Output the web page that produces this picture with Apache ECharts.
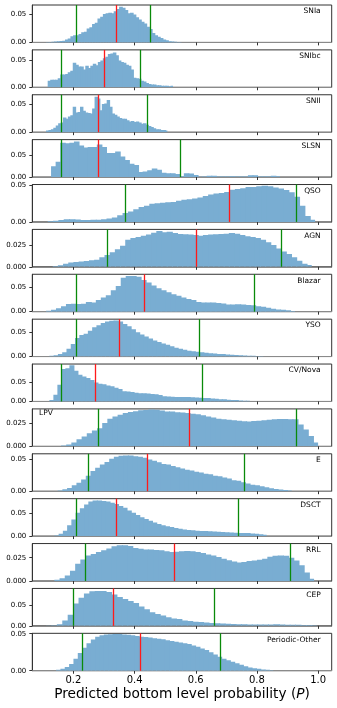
<!DOCTYPE html>
<html><head><meta charset="utf-8">
<script src="https://cdn.jsdelivr.net/npm/echarts@6/dist/echarts.min.js"></script>
<style>html,body{margin:0;padding:0;background:#fff}#c{width:337px;height:708px}</style>
</head><body><div id="c"></div>
<script>
// ---------------- DATA ----------------
const classNames = ['SNIa','SNIbc','SNII','SLSN','QSO','AGN','Blazar','YSO','CV/Nova','LPV','E','DSCT','RRL','CEP','Periodic-Other'];
// histogram range (first bin left edge, last bin right edge) per class
const binLo = [0.1104,0.1158,0.1104,0.1268,0.1158,0.1322,0.1104,0.1213,0.1213,0.1596,0.1486,0.1377,0.1377,0.1104,0.1432];
const binHi = [0.5530,0.5257,0.5071,0.8754,0.9902,0.9792,0.9246,0.8208,0.7770,1.0000,0.9137,0.8317,0.9869,0.9956,0.8536];

const hSNIa = [0.0005,0.0008,0.001,0.0015,0.002,0.0025,0.003,0.005,0.007,0.011,0.013,0.013,0.015,0.018,0.019,0.025,0.027,0.033,0.035,0.043,0.046,0.051,0.052,0.053,0.052,0.056,0.060,0.064,0.062,0.058,0.052,0.053,0.050,0.045,0.041,0.037,0.034,0.028,0.024,0.017,0.013,0.010,0.008,0.005,0.004,0.002,0.0015,0.001,0.0008,0.0005];
const hSNIbc = [0.012,0.014,0.014,0.014,0.017,0.024,0.024,0.025,0.028,0.031,0.046,0.042,0.039,0.039,0.033,0.040,0.036,0.040,0.044,0.041,0.047,0.050,0.054,0.057,0.062,0.063,0.065,0.060,0.050,0.047,0.046,0.042,0.040,0.033,0.018,0.017,0.016,0.012,0.011,0.008,0.006,0.005,0.005,0.004,0.004,0.003,0.003,0.003,0.002,0.003];
const hSNII = [0.003,0.004,0.005,0.008,0.012,0.016,0.017,0.026,0.024,0.028,0.030,0.045,0.035,0.036,0.045,0.038,0.035,0.034,0.033,0.042,0.063,0.060,0.039,0.050,0.051,0.057,0.045,0.033,0.031,0.028,0.025,0.024,0.024,0.021,0.019,0.020,0.018,0.019,0.017,0.015,0.016,0.013,0.011,0.009,0.007,0.005,0.005,0.004,0.004,0.003];
const hSLSN = [0.025,0.036,0.080,0.079,0.080,0.083,0.074,0.069,0.070,0.070,0.076,0.070,0.056,0.056,0.060,0.048,0.040,0.031,0.028,0.012,0.013,0.016,0.020,0.017,0.010,0.009,0.009,0.007,0.002,0.009,0.008,0.005,0.0005,0.001,0.003,0.003,0.0015,0.0015,0.0015,0.002,0.0015,0.0015,0.001,0.004,0.004,0.0015,0.001,0.001,0.003,0.002];
const hQSO = [0.0008,0.0015,0.0025,0.0035,0.0036,0.0033,0.0027,0.0027,0.0028,0.003,0.0035,0.0045,0.006,0.009,0.012,0.014,0.017,0.020,0.022,0.0245,0.0252,0.0258,0.0264,0.027,0.0285,0.030,0.0305,0.0315,0.033,0.035,0.037,0.0385,0.039,0.0405,0.0435,0.0445,0.0455,0.047,0.047,0.048,0.0487,0.048,0.0465,0.045,0.043,0.040,0.034,0.022,0.008,0.003];
const hAGN = [0.001,0.0018,0.0035,0.005,0.0055,0.006,0.0065,0.0075,0.008,0.011,0.0135,0.0165,0.020,0.024,0.031,0.033,0.034,0.0354,0.037,0.039,0.041,0.0395,0.040,0.0385,0.0375,0.0372,0.0368,0.0364,0.0355,0.0362,0.0368,0.0372,0.0375,0.0378,0.0385,0.0378,0.0362,0.035,0.034,0.033,0.031,0.028,0.025,0.021,0.0175,0.0145,0.011,0.0068,0.0035,0.002];
const hBlazar = [0.002,0.004,0.007,0.011,0.016,0.0165,0.016,0.0165,0.020,0.019,0.024,0.029,0.034,0.044,0.053,0.070,0.0736,0.0736,0.072,0.065,0.060,0.054,0.048,0.044,0.040,0.036,0.033,0.029,0.026,0.024,0.020,0.019,0.019,0.019,0.018,0.0167,0.015,0.015,0.0155,0.015,0.014,0.013,0.011,0.010,0.008,0.006,0.0045,0.004,0.003,0.0015];
const hYSO = [0.0015,0.0025,0.005,0.009,0.016,0.026,0.038,0.044,0.047,0.053,0.060,0.064,0.069,0.072,0.0735,0.074,0.072,0.067,0.062,0.056,0.050,0.045,0.041,0.037,0.033,0.030,0.027,0.024,0.021,0.018,0.016,0.014,0.012,0.011,0.010,0.009,0.008,0.007,0.0065,0.0055,0.005,0.004,0.0035,0.003,0.0025,0.002,0.0018,0.0015,0.0012,0.001];
const hCVNova = [0.004,0.018,0.044,0.086,0.088,0.0955,0.081,0.0705,0.066,0.062,0.057,0.050,0.047,0.0455,0.042,0.040,0.036,0.033,0.027,0.026,0.025,0.023,0.022,0.0215,0.021,0.020,0.019,0.017,0.014,0.013,0.0125,0.012,0.0118,0.0116,0.0115,0.011,0.0107,0.010,0.009,0.009,0.008,0.007,0.006,0.0055,0.0045,0.004,0.0035,0.0025,0.002,0.0015];
const hLPV = [0.001,0.002,0.004,0.0076,0.0105,0.014,0.017,0.0195,0.025,0.0297,0.032,0.034,0.0358,0.037,0.0378,0.0387,0.039,0.0395,0.0392,0.0384,0.0375,0.0373,0.0366,0.0363,0.0358,0.035,0.0345,0.0335,0.032,0.031,0.0297,0.029,0.0286,0.028,0.0275,0.027,0.0268,0.0272,0.0276,0.028,0.0286,0.029,0.0293,0.0293,0.029,0.029,0.0235,0.018,0.011,0.004];
const hE = [0.001,0.003,0.005,0.009,0.013,0.018,0.024,0.031,0.036,0.041,0.045,0.050,0.053,0.0545,0.055,0.055,0.054,0.053,0.0515,0.049,0.047,0.0445,0.042,0.041,0.039,0.037,0.035,0.033,0.032,0.030,0.029,0.027,0.026,0.024,0.023,0.021,0.0195,0.017,0.016,0.014,0.012,0.010,0.009,0.0075,0.006,0.0045,0.0035,0.0025,0.0018,0.001];
const hDSCT = [0.0015,0.005,0.012,0.024,0.037,0.052,0.062,0.070,0.077,0.079,0.079,0.078,0.077,0.074,0.071,0.067,0.063,0.057,0.052,0.047,0.042,0.038,0.034,0.030,0.027,0.024,0.022,0.020,0.018,0.016,0.0145,0.0135,0.013,0.012,0.0115,0.011,0.0105,0.010,0.0095,0.009,0.0085,0.008,0.0075,0.007,0.0068,0.0066,0.006,0.005,0.004,0.003];
const hRRL = [0.0012,0.003,0.006,0.011,0.0185,0.023,0.0275,0.029,0.031,0.033,0.035,0.0373,0.0384,0.0384,0.0376,0.0355,0.0345,0.0338,0.0337,0.0333,0.033,0.032,0.031,0.0315,0.032,0.0322,0.032,0.031,0.030,0.0285,0.0275,0.0258,0.024,0.0222,0.021,0.0199,0.0205,0.0214,0.022,0.0228,0.024,0.026,0.0272,0.0275,0.027,0.025,0.022,0.017,0.009,0.0025];
const hCEP = [0.001,0.0015,0.004,0.013,0.027,0.054,0.068,0.078,0.084,0.0845,0.0842,0.082,0.076,0.070,0.065,0.060,0.055,0.047,0.040,0.033,0.0286,0.025,0.021,0.018,0.0165,0.013,0.0115,0.010,0.009,0.008,0.007,0.006,0.0055,0.005,0.0045,0.004,0.004,0.0035,0.003,0.003,0.003,0.003,0.004,0.0035,0.0025,0.0025,0.0025,0.002,0.002,0.0015];
const hPeriodicOther = [0.0012,0.0025,0.005,0.009,0.016,0.024,0.031,0.037,0.042,0.046,0.048,0.049,0.0492,0.0495,0.0495,0.049,0.0486,0.048,0.047,0.046,0.0454,0.045,0.044,0.043,0.0425,0.041,0.040,0.039,0.038,0.037,0.036,0.034,0.0325,0.030,0.028,0.025,0.022,0.019,0.016,0.014,0.012,0.010,0.008,0.006,0.0045,0.0035,0.0025,0.0015,0.0012,0.0008];
const heights = [hSNIa,hSNIbc,hSNII,hSLSN,hQSO,hAGN,hBlazar,hYSO,hCVNova,hLPV,hE,hDSCT,hRRL,hCEP,hPeriodicOther];

// vertical markers: lower green, red (median), upper green
const greenLow  = [0.2055,0.1596,0.1607,0.1617,0.3705,0.309,0.211,0.209,0.1585,0.285,0.249,0.211,0.239,0.2033,0.2284];
const redMedian = [0.338,0.3005,0.283,0.2754,0.7115,0.599,0.426,0.349,0.2667,0.578,0.4437,0.345,0.531,0.328,0.423];
const greenHigh = [0.4525,0.4175,0.4404,0.5486,0.928,0.882,0.785,0.613,0.622,0.927,0.7607,0.7355,0.908,0.658,0.681];

// axes
const yAxisMax = [0.067,0.0698,0.0665,0.0875,0.0505,0.0427,0.077,0.0767,0.099,0.0402,0.0577,0.083,0.0402,0.0905,0.0505];
const yTickValues = [[0,0.05],[0,0.05],[0,0.05],[0,0.05],[0,0.05],[0,0.025],[0,0.05],[0,0.05],[0,0.05],[0,0.025],[0,0.05],[0,0.05],[0,0.025],[0,0.05],[0,0.05]];
const xTickValues = [0.2,0.4,0.6,0.8,1.0];
const xRange = [0.0655,1.0445];
const xAxisTitle = ['Predicted bottom level probability (', 'P', ')'];

// ---------------- LAYOUT ----------------
const FONT = 'DejaVu Sans';
const gridLeft = 32.3, gridWidth = 299.4, firstTop = 5, step = 44.88, gridH = 37.4;
const N = classNames.length;

const grids = [], xAxes = [], yAxes = [], series = [], graphics = [];
for (let i = 0; i < N; i++) {
  const top = firstTop + step * i;
  grids.push({left: gridLeft, top: top, width: gridWidth, height: gridH,
    show: true, borderColor: '#333', borderWidth: 1, backgroundColor: 'transparent',
    containLabel: false, outerBoundsMode: 'none'});
  const last = i === N - 1;
  xAxes.push({type: 'value', gridIndex: i, min: xRange[0], max: xRange[1],
    axisLine: {show: true, onZero: false, lineStyle: {color: '#8a8a8a', width: 1}},
    axisTick: {show: true, customValues: xTickValues, length: 3, lineStyle: {color: '#333', width: 1}},
    axisLabel: {show: last, customValues: xTickValues, formatter: v => v.toFixed(1),
      fontSize: 10, fontFamily: FONT, color: '#000', margin: 5},
    splitLine: {show: false}});
  const dec = yTickValues[i][1] === 0.025 ? 3 : 2;
  yAxes.push({type: 'value', gridIndex: i, min: 0, max: yAxisMax[i],
    axisLine: {show: true, lineStyle: {color: '#333', width: 1}},
    axisTick: {show: true, customValues: yTickValues[i], length: 3, lineStyle: {color: '#333', width: 1}},
    axisLabel: {customValues: yTickValues[i], formatter: v => v.toFixed(dec),
      fontSize: 7, fontFamily: FONT, color: '#000', margin: 6},
    splitLine: {show: false}});
  const h = heights[i];
  const w = (binHi[i] - binLo[i]) / h.length;
  series.push({
    type: 'custom', xAxisIndex: i, yAxisIndex: i, animation: false, silent: true, clip: true,
    data: h.map((v, k) => [binLo[i] + k * w, binLo[i] + (k + 1) * w, v]),
    encode: {x: [0, 1], y: 2},
    renderItem: (params, api) => {
      const a = api.coord([api.value(0), api.value(2)]);
      const b = api.coord([api.value(1), 0]);
      const last = params.dataIndex === params.dataInsideLength - 1;
      return {type: 'rect', shape: {x: a[0], y: a[1], width: b[0] - a[0] + (last ? 0 : 1), height: b[1] - a[1]},
        style: {fill: '#79add2', stroke: null}};
    },
    markLine: {silent: true, animation: false, symbol: 'none', label: {show: false},
      lineStyle: {type: 'solid', width: 1.3},
      data: [
        {xAxis: greenLow[i], lineStyle: {color: '#0a8a0a', type: 'solid', width: 1.3}},
        {xAxis: redMedian[i], lineStyle: {color: '#ff1a1a', type: 'solid', width: 1.3}},
        {xAxis: greenHigh[i], lineStyle: {color: '#0a8a0a', type: 'solid', width: 1.3}}
      ]}
  });
  const leftLabel = classNames[i] === 'LPV';
  graphics.push({type: 'text', silent: true,
    x: leftLabel ? gridLeft + 6.7 : gridLeft + gridWidth - 11,
    y: top + (leftLabel ? 4 : 6.3),
    style: {text: classNames[i], fontSize: 7.5, fontFamily: FONT, fill: '#000',
      align: leftLabel ? 'left' : 'right', verticalAlign: 'middle'}});
}
graphics.push({type: 'text', silent: true, x: gridLeft + gridWidth / 2, y: 694,
  style: {text: '{n|' + xAxisTitle[0] + '}{i|' + xAxisTitle[1] + '}{n|' + xAxisTitle[2] + '}',
    align: 'center', verticalAlign: 'middle',
    rich: {n: {fontSize: 13.7, fontFamily: FONT, fill: '#000'},
           i: {fontSize: 13.7, fontFamily: FONT, fontStyle: 'italic', fill: '#000'}}}});

const chart = echarts.init(document.getElementById('c'), null, {renderer: 'canvas'});
chart.setOption({animation: false, backgroundColor: '#fff', grid: grids, xAxis: xAxes, yAxis: yAxes, series: series, graphic: graphics});
</script></body></html>
